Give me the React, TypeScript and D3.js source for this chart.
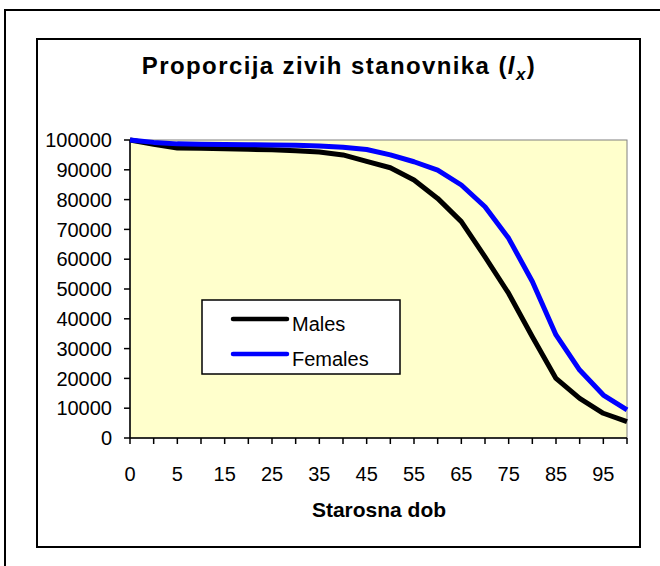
import React from 'react';
import * as d3 from 'd3';

const ages = [0, 1, 5, 10, 15, 20, 25, 30, 35, 40, 45, 50, 55, 60, 65, 70, 75, 80, 85, 90, 95, 100];
const males = [100000, 98600, 97300, 97200, 97100, 96900, 96700, 96400, 96000, 95000, 92800, 90700, 86600, 80400, 72600, 60800, 48500, 34000, 20000, 13300, 8300, 5500];
const females = [100000, 99200, 98700, 98600, 98500, 98400, 98300, 98200, 98000, 97600, 96800, 95000, 92700, 89900, 84900, 77600, 67000, 52500, 34600, 22800, 14400, 9400];
const yTicks = [0, 10000, 20000, 30000, 40000, 50000, 60000, 70000, 80000, 90000, 100000];
const xLabels = [0, 5, 15, 25, 35, 45, 55, 65, 75, 85, 95];

const series = [
  { name: 'Males', values: males, color: '#000000' },
  { name: 'Females', values: females, color: '#0000FF' },
];

const App = () => {
  const plot = { left: 130, right: 627, top: 140, bottom: 438 };

  // x: one point per age group, ends on the plot edges
  const x = d3.scalePoint<number>()
    .domain(ages)
    .range([plot.left, plot.right]);

  const y = d3.scaleLinear()
    .domain([0, 100000])
    .range([plot.bottom, plot.top]);

  const line = d3.line<number>()
    .x((d, i) => x(ages[i]) as number)
    .y(d => y(d));

  const font = 'Arial, "Liberation Sans", sans-serif';

  return (
    <svg width={660} height={566} style={{ position: 'absolute', left: 0, top: 0, background: '#fff' }}
      fontFamily={font}>
      {/* outer frame */}
      <rect x={5} y={10} width={700} height={600} fill="#fff" stroke="#000" strokeWidth={2} />
      {/* chart area */}
      <rect x={37} y={39} width={603} height={508} fill="#fff" stroke="#000" strokeWidth={2} />

      <text x={339} y={74} textAnchor="middle" fontSize={24} fontWeight="bold" letterSpacing={1.4}>
        Proporcija zivih stanovnika (<tspan fontStyle="italic">l</tspan>
        <tspan fontSize={17} fontStyle="italic" dy={6}>x</tspan>
        <tspan dy={-6}>)</tspan>
      </text>

      {/* plot area */}
      <rect x={plot.left} y={plot.top} width={plot.right - plot.left} height={plot.bottom - plot.top}
        fill="#FFFFCC" stroke="#808080" strokeWidth={1} />

      {/* y axis */}
      <line x1={plot.left} x2={plot.left} y1={plot.top} y2={plot.bottom} stroke="#000" strokeWidth={1.5} />
      {yTicks.map(t => (
        <g key={t}>
          <line x1={plot.left - 6} x2={plot.left} y1={y(t)} y2={y(t)} stroke="#000" strokeWidth={1.5} />
          <text x={112} y={y(t)} dy="0.36em" textAnchor="end" fontSize={20}>{t}</text>
        </g>
      ))}

      {/* x axis */}
      <line x1={plot.left} x2={plot.right} y1={plot.bottom} y2={plot.bottom} stroke="#000" strokeWidth={1.5} />
      {ages.map(a => (
        <line key={a} x1={x(a)} x2={x(a)} y1={plot.bottom} y2={plot.bottom + 6} stroke="#000" strokeWidth={1.5} />
      ))}
      {xLabels.map(a => (
        <text key={a} x={x(a)} y={481} textAnchor="middle" fontSize={20}>{a}</text>
      ))}
      <text x={379} y={517} textAnchor="middle" fontSize={21} fontWeight="bold">Starosna dob</text>

      {/* lines */}
      {series.map(s => (
        <path key={s.name} d={line(s.values) || ''} fill="none" stroke={s.color} strokeWidth={5}
          strokeLinejoin="round" />
      ))}

      {/* legend */}
      <rect x={202} y={300} width={198} height={74} fill="#fff" stroke="#000" strokeWidth={1.5} />
      {series.map((s, i) => (
        <g key={s.name}>
          <line x1={233} x2={287} y1={319 + i * 35} y2={319 + i * 35} stroke={s.color} strokeWidth={4.5}
            strokeLinecap="round" />
          <text x={292} y={331 + i * 35} fontSize={20}>{s.name}</text>
        </g>
      ))}
    </svg>
  );
};

export default App;
